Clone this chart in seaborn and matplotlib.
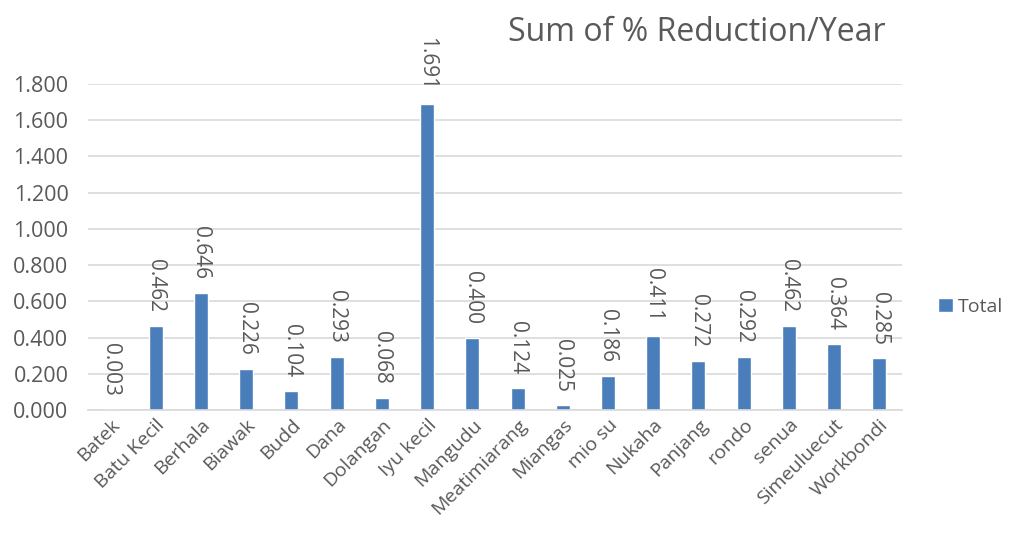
#!/usr/bin/env python3
"""
Sum of % Reduction/Year per island, Excel-style bar chart.
"""

import matplotlib

matplotlib.use("Agg")

import matplotlib.pyplot as plt
import numpy as np
import pandas as pd
import seaborn as sns  # type: ignore

# Data
islands = [
    "Batek", "Batu Kecil", "Berhala", "Biawak", "Budd", "Dana", "Dolangan",
    "Iyu kecil", "Mangudu", "Meatimiarang", "Miangas", "mio su", "Nukaha",
    "Panjang", "rondo", "senua", "Simeuluecut", "Workbondi",
]
reduction = [
    0.003, 0.462, 0.646, 0.226, 0.104, 0.293, 0.068, 1.691, 0.400,
    0.124, 0.025, 0.186, 0.411, 0.272, 0.292, 0.462, 0.364, 0.285,
]
y_ticks = [0.0, 0.2, 0.4, 0.6, 0.8, 1.0, 1.2, 1.4, 1.6, 1.8]

BAR_COLOR = "#4a7ebb"
TEXT_COLOR = "#595959"

sns.set_style("white")
plt.rcParams["font.family"] = ["Open Sans", "DejaVu Sans"]

df = pd.DataFrame({"island": islands, "reduction": reduction})

fig = plt.figure(figsize=(10.1, 5.37), dpi=100)
ax = fig.add_axes([0.087, 0.2365, 0.806, 0.607])

sns.barplot(data=df, x="island", y="reduction", color=BAR_COLOR,
            width=0.31, saturation=1, ax=ax, label="Total")

ax.set_ylim(0, 1.8)
ax.set_yticks(y_ticks)
ax.set_yticklabels([f"{t:.3f}" for t in y_ticks])
ax.yaxis.grid(True, color="#d9d9d9", linewidth=1.2)
ax.set_axisbelow(True)
for side in ["top", "right", "left"]:
    ax.spines[side].set_visible(False)
ax.spines["bottom"].set_color("#d9d9d9")
ax.spines["bottom"].set_linewidth(1.2)

ax.tick_params(axis="y", length=0, labelsize=15.5, labelcolor=TEXT_COLOR, pad=14)
ax.tick_params(axis="x", length=0, labelsize=14, labelcolor=TEXT_COLOR, pad=4)
plt.setp(ax.get_xticklabels(), rotation=45, ha="right", rotation_mode="anchor")
ax.set_xlabel("")
ax.set_ylabel("")

# value labels, rotated to read top-to-bottom
for i, v in enumerate(reduction):
    ax.annotate(f"{v:.3f}", (i, v), xytext=(0, 10), textcoords="offset points",
                rotation=270, ha="center", va="bottom", fontsize=15,
                color=TEXT_COLOR)

fig.text(0.69, 0.94, "Sum of % Reduction/Year", ha="center", va="center",
         fontsize=23, color=TEXT_COLOR)

leg = ax.legend(loc="center left", bbox_to_anchor=(1.03, 0.316), frameon=False,
                fontsize=14, handlelength=0.75, handleheight=0.75,
                handletextpad=0.25, borderaxespad=0.2)
for t in leg.get_texts():
    t.set_color(TEXT_COLOR)

fig.savefig("out.png", dpi=100)
